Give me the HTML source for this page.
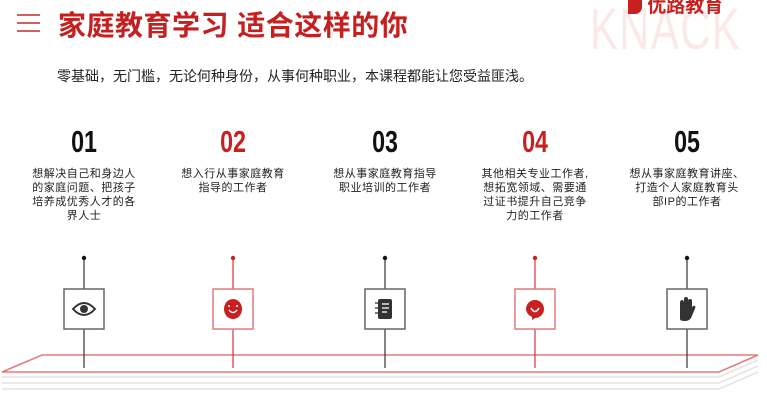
<!DOCTYPE html>
<html><head><meta charset="utf-8"><style>
body{margin:0;width:767px;height:410px;background:#fff;position:relative;overflow:hidden;font-family:"Liberation Sans","Noto Sans CJK SC",sans-serif}
.abs{position:absolute}
.knack{left:590px;top:-4px;font-size:58px;color:#fbe8e8;letter-spacing:2px;transform:scaleX(0.72);transform-origin:left top;font-family:"Liberation Sans",sans-serif}
.logo{left:628px;top:-9px;font-size:19px;color:#c8201f;font-weight:bold;white-space:nowrap}
.title{left:58px;top:4px;font-size:28px;font-weight:bold;color:#c4201f;white-space:nowrap;letter-spacing:0.5px}
.sub{left:57px;top:66px;font-size:14px;color:#222;white-space:nowrap}
.num{width:120px;text-align:center;top:124px;font-size:31px;transform:scaleX(0.75);color:#111;font-weight:bold}
.red{color:#c8201f}
.txt{width:140px;text-align:center;top:167px;font-size:11px;line-height:14px;color:#222;white-space:nowrap;letter-spacing:0.5px}
</style></head><body>
<div class="abs" style="left:17px;top:14px;width:23px;height:2px;background:#d06060"></div>
<div class="abs" style="left:17px;top:22px;width:23px;height:2px;background:#d06060"></div>
<div class="abs" style="left:17px;top:30px;width:23px;height:2px;background:#d06060"></div>
<div class="abs knack">KNACK</div>
<div class="abs logo"><span style="display:inline-block;width:14px;height:14px;background:#c8201f;border-radius:0 0 7px 0;vertical-align:middle"></span> 优路教育</div>
<div class="abs title">家庭教育学习 适合这样的你</div>
<div class="abs sub">零基础，无门槛，无论何种身份，从事何种职业，本课程都能让您受益匪浅。</div>

<div class="abs num" style="left:24px">01</div>
<div class="abs num red" style="left:173px">02</div>
<div class="abs num" style="left:325px">03</div>
<div class="abs num red" style="left:475px">04</div>
<div class="abs num" style="left:627px">05</div>

<div class="abs txt" style="left:14px">想解决自己和身边人<br>的家庭问题、把孩子<br>培养成优秀人才的各<br>界人士</div>
<div class="abs txt" style="left:163px">想入行从事家庭教育<br>指导的工作者</div>
<div class="abs txt" style="left:315px">想从事家庭教育指导<br>职业培训的工作者</div>
<div class="abs txt" style="left:465px">其他相关专业工作者,<br>想拓宽领域、需要通<br>过证书提升自己竞争<br>力的工作者</div>
<div class="abs txt" style="left:617px">想从事家庭教育讲座、<br>打造个人家庭教育头<br>部IP的工作者</div>

<svg class="abs" style="left:0;top:0" width="767" height="410">
<g fill="none" stroke="#e4e4e4" stroke-width="1.5">
<polyline points="2,377 719,377 758,360"/>
<polyline points="2,383 719,383 758,366"/>
<polyline points="2,389 719,389 758,372"/>
</g>
<polygon points="42,355 758,355 719,372 2,372" fill="#fff" stroke="#e47a7a" stroke-width="1.5"/>
<g stroke-width="1.2">
<line x1="84" y1="258" x2="84" y2="368" stroke="#333"/>
<line x1="233" y1="258" x2="233" y2="368" stroke="#d33"/>
<line x1="385" y1="258" x2="385" y2="368" stroke="#333"/>
<line x1="535" y1="258" x2="535" y2="368" stroke="#d33"/>
<line x1="687" y1="258" x2="687" y2="368" stroke="#333"/>
</g>
<circle cx="84" cy="258" r="2.2" fill="#111"/>
<circle cx="233" cy="258" r="2.2" fill="#c8201f"/>
<circle cx="385" cy="258" r="2.2" fill="#111"/>
<circle cx="535" cy="258" r="2.2" fill="#c8201f"/>
<circle cx="687" cy="258" r="2.2" fill="#111"/>
<g stroke-width="1.5" fill="#fff">
<rect x="64" y="289" width="40" height="40" stroke="#666"/>
<rect x="213" y="289" width="40" height="40" stroke="#e47a7a"/>
<rect x="365" y="289" width="40" height="40" stroke="#666"/>
<rect x="515" y="289" width="40" height="40" stroke="#e47a7a"/>
<rect x="667" y="289" width="40" height="40" stroke="#666"/>
</g>
<path d="M73,309 Q84,297 95,309 Q84,321 73,309Z" fill="none" stroke="#333" stroke-width="2"/>
<circle cx="84" cy="309" r="4" fill="#333"/>
<ellipse cx="233" cy="309" rx="9" ry="10" fill="#c8201f"/>
<path d="M229,310 Q233,315 237,310" stroke="#fff" stroke-width="1.4" fill="none"/>
<circle cx="229" cy="306" r="1" fill="#fff"/><circle cx="237" cy="306" r="1" fill="#fff"/>
<rect x="378" y="299" width="14" height="20" rx="2" fill="#333"/>
<g stroke="#fff" stroke-width="1.3"><line x1="382" y1="304" x2="389" y2="304"/><line x1="382" y1="308" x2="389" y2="308"/><line x1="382" y1="312" x2="387" y2="312"/></g>
<g stroke="#333" stroke-width="1.3"><line x1="375" y1="303" x2="378" y2="303"/><line x1="375" y1="308" x2="378" y2="308"/><line x1="375" y1="313" x2="378" y2="313"/></g>
<path d="M526,309 a9,9 0 1 1 18,0 a9,9 0 0 1 -9,9 l-3,2 l0,-3 a9,9 0 0 1 -6,-8z" fill="#c8201f"/>
<path d="M531,308 Q535,315 539,308" stroke="#fff" stroke-width="1.5" fill="none"/>
<path d="M680,319 L680,303 Q680,300 682,300 Q684,300 684,303 L684,299 Q684,297 686,297 Q688,297 688,299 L688,301 Q688,299 690,299 Q692,299 692,301 L692,307 Q694,305 695,306 Q696,307 694,311 L691,318 Q689,321 685,321 Q680,321 680,319Z" fill="#333"/>
</svg>
</body></html>
